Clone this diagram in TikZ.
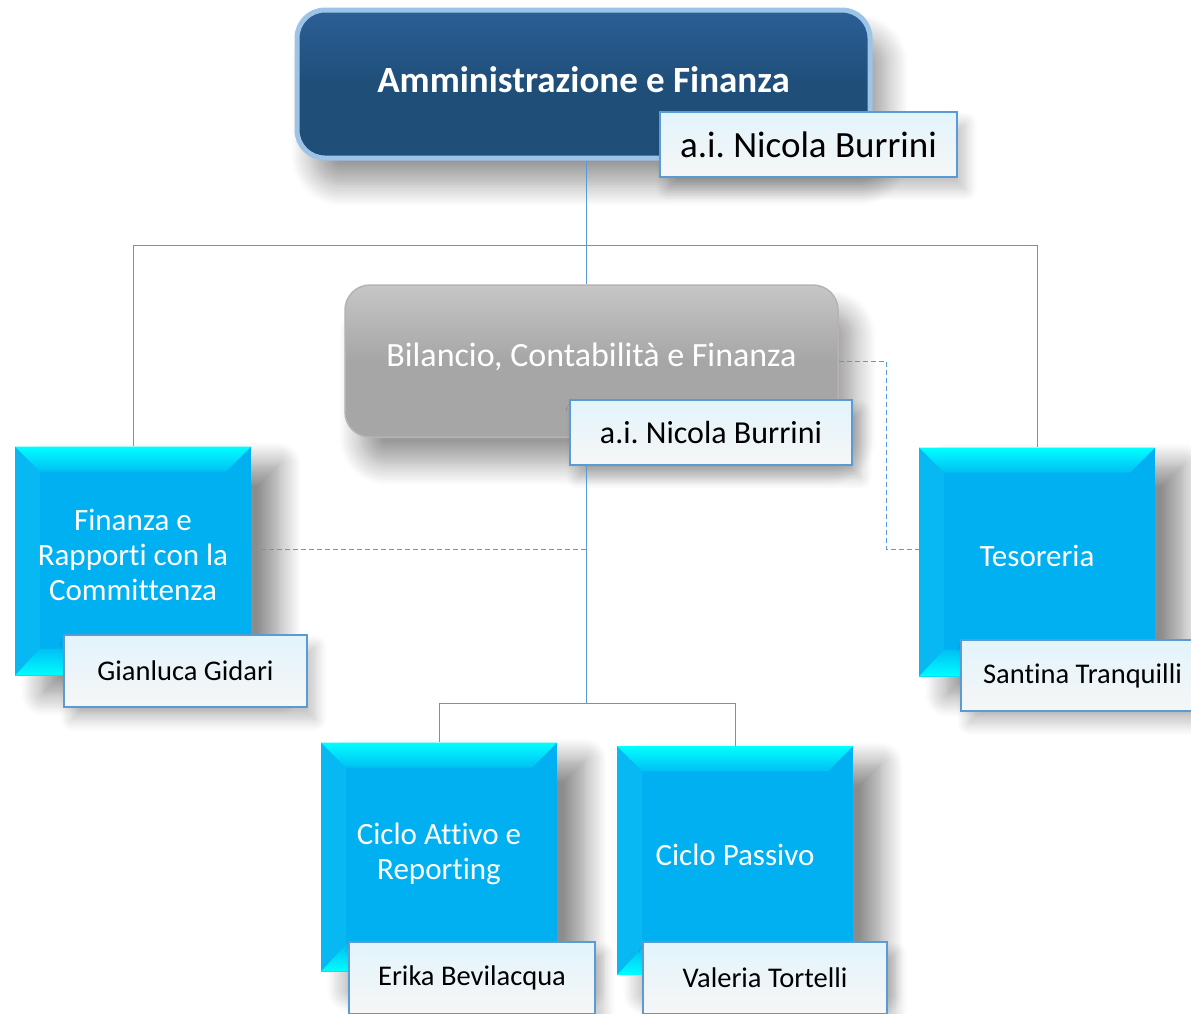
\documentclass[tikz,border=0pt]{standalone}
\usepackage{fontspec}
\setmainfont{Carlito}[Ligatures=NoCommon]
\frenchspacing
\usetikzlibrary{shadows.blur,calc}

\definecolor{headblue}{HTML}{1F4E79}
\definecolor{headtop}{HTML}{2B5F96}
\definecolor{headglow}{HTML}{9DC3E6}
\definecolor{officegray}{HTML}{A6A6A6}
\definecolor{officetop}{HTML}{C6C6C6}
\definecolor{officeline}{HTML}{B8B2B2}
\definecolor{unitcyan}{HTML}{00B0F0}
\definecolor{bevelhi}{HTML}{00FFFF}
\definecolor{bevelmid}{HTML}{00C0F5}
\definecolor{bevelside}{HTML}{08B8F3}
\definecolor{nameline}{HTML}{5B9BD5}
\definecolor{nametop}{HTML}{E2F4FC}
\definecolor{namebot}{HTML}{F6F6F6}
\definecolor{linecol}{HTML}{5B9BD5}

\begin{document}
\begin{tikzpicture}[x=1pt, y=-1pt]
        \tikzstyle{conn} = [draw, linecol, line width=1pt]
        \tikzstyle{dotconn} = [draw, linecol, line width=1pt, dash pattern=on 5pt off 3pt]
        \tikzstyle{head} = [draw=headglow, line width=5pt, rounded corners=28pt, top color=headtop, bottom color=headblue, middle color=headblue,
            text=white, font=\fontsize{37}{44}\selectfont\bfseries, text depth=8pt, minimum width=573pt, minimum height=148pt, inner sep=0pt,
            blur shadow={shadow xshift=16pt, shadow yshift=-26pt, shadow blur radius=22pt, shadow blur steps=14, shadow opacity=40}]
        \tikzstyle{office} = [draw=officeline, line width=1.5pt, rounded corners=25pt, top color=officetop, bottom color=officegray, middle color=officegray,
            text=white, font=\fontsize{34}{40}\selectfont, text depth=13pt, minimum width=493pt, minimum height=152pt, inner sep=0pt,
            blur shadow={shadow xshift=16pt, shadow yshift=-26pt, shadow blur radius=22pt, shadow blur steps=14, shadow opacity=40}]
        \tikzstyle{unit} = [fill=unitcyan, text=white, font=\fontsize{31}{35}\selectfont, align=center, text depth=12pt,
            minimum width=236pt, minimum height=229pt, inner sep=0pt,
            blur shadow={shadow xshift=28pt, shadow yshift=-18pt, shadow blur radius=22pt, shadow blur steps=14, shadow opacity=45},
            path picture={
                \path (path picture bounding box.north west) coordinate (bnw)
                      (path picture bounding box.north east) coordinate (bne)
                      (path picture bounding box.south west) coordinate (bsw)
                      (path picture bounding box.south east) coordinate (bse);
                \fill[bevelside] (bnw) -- ($(bnw)+(25,25)$) -- ($(bsw)+(25,-27)$) -- (bsw) -- cycle;
                \shade[top color=bevelhi, bottom color=bevelmid] (bnw) -- (bne) -- ($(bne)+(-25,25)$) -- ($(bnw)+(25,25)$) -- cycle;
                \shade[top color=bevelmid, bottom color=bevelhi] (bsw) -- (bse) -- ($(bse)+(-25,-27)$) -- ($(bsw)+(25,-27)$) -- cycle;
            }]
        \tikzstyle{person} = [draw=nameline, line width=2pt, top color=nametop, bottom color=namebot,
            text=black, font=\fontsize{28.5}{34}\selectfont, minimum width=244pt, minimum height=72pt, inner sep=0pt,
            blur shadow={shadow xshift=8pt, shadow yshift=-12pt, shadow blur radius=12pt, shadow blur steps=10, shadow opacity=25}]

        \useasboundingbox (0,0) rectangle (1191,1013);

        \node[head] (admin) at (583.5, 84) {Amministrazione e Finanza};
        \node[person, minimum width=297pt, minimum height=65pt, font=\fontsize{37}{44}\selectfont] (admin name) at (808.5, 144.5) {a.i. Nicola Burrini};

        \node[office] (balance) at (591.5, 361) {Bilancio, Contabilità e Finanza};
        \node[person, minimum width=282pt, minimum height=65pt, font=\fontsize{32}{38}\selectfont] (balance name) at (711, 432.5) {a.i. Nicola Burrini};

        \node[unit] (finance) at (133, 561) {Finanza e\\Rapporti con la\\Committenza};
        \node[person, minimum width=243pt] (finance name) at (185.5, 671) {Gianluca Gidari};

        \node[unit] (treasury) at (1037, 562) {Tesoreria};
        \node[person, minimum width=243pt, minimum height=71pt] (treasury name) at (1082.5, 675.5) {Santina Tranquilli};

        \node[unit] (active) at (439, 857) {Ciclo Attivo e\\Reporting};
        \node[person, minimum width=246pt] (active name) at (472, 978) {Erika Bevilacqua};

        \node[unit] (passive) at (735, 860.5) {Ciclo Passivo};
        \node[person] (passive name) at (765, 978) {Valeria Tortelli};

        \coordinate (top bus) at (586, 245);
        \coordinate (low bus) at (586, 703);
        \coordinate (left dash) at (586, 549);
        \coordinate (right dash) at (886, 549);

        \path[conn] (admin.south -| top bus) -- (top bus);
        \path[conn] (top bus) -- (top bus |- balance.north);
        \path[conn] (top bus) -| (finance.north);
        \path[conn] (top bus) -| (treasury.north);
        \path[conn] (balance name.south -| low bus) -- (low bus);
        \path[conn] (low bus) -| (active.north);
        \path[conn] (low bus) -| (passive.north);
        \path[dotconn] (left dash) -- (finance.east |- left dash);
        \path[dotconn] (balance.east) -| (right dash) -- (treasury.west |- right dash);
    \end{tikzpicture}
\end{document}
